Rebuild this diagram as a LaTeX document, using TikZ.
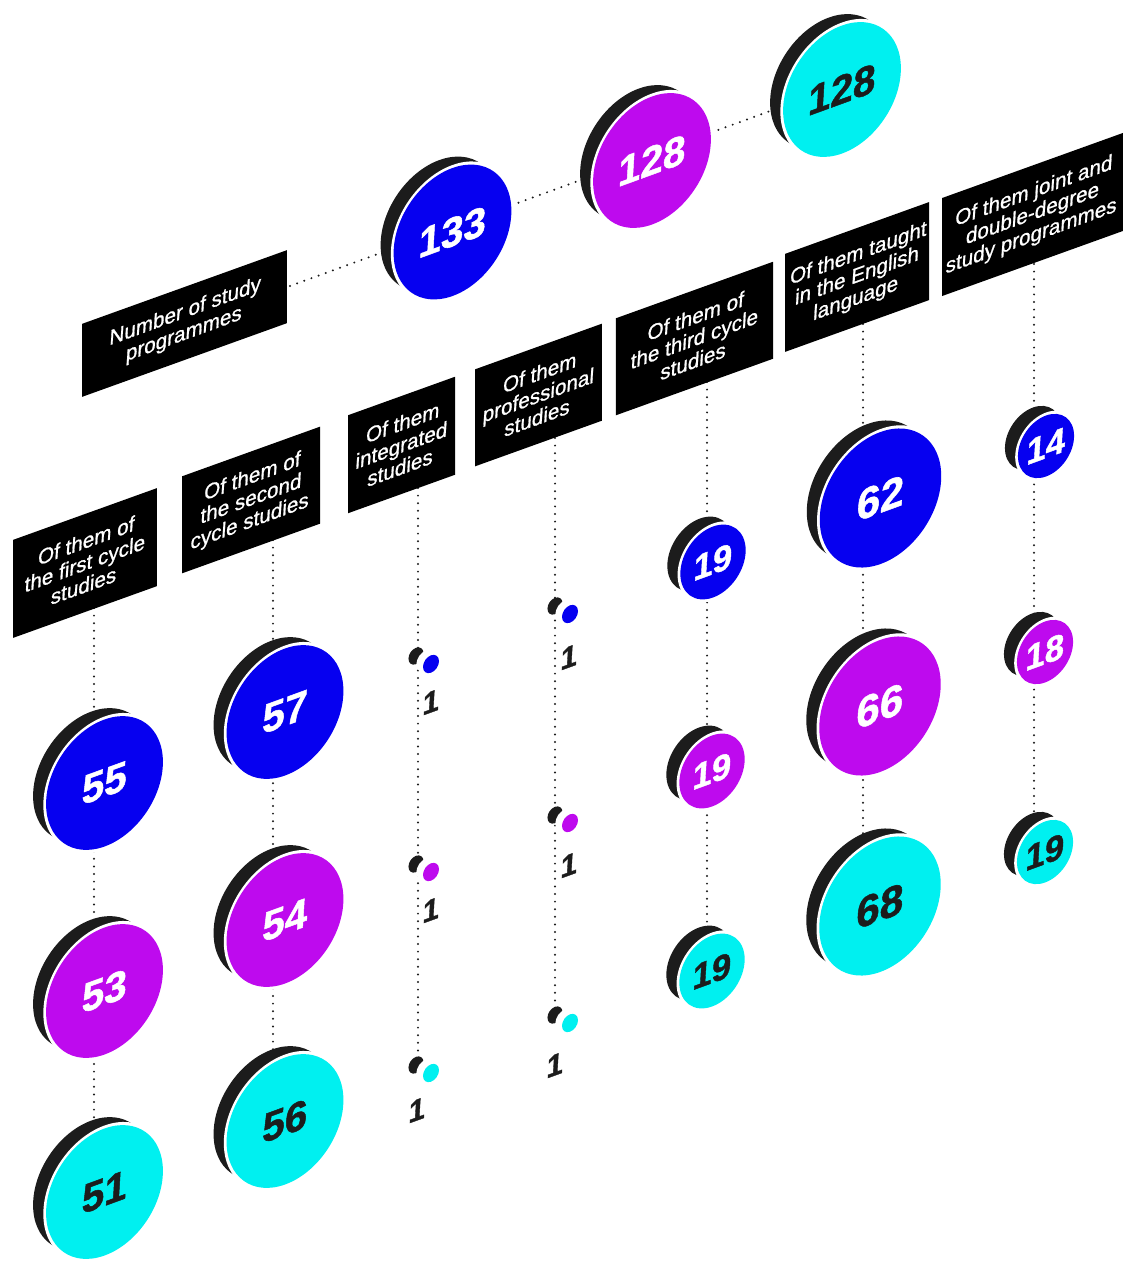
\documentclass[tikz,border=0pt]{standalone}
\usepackage{fontspec}
\newfontfamily\lblfont{Liberation Sans}[FakeBold=0.9]
\newfontfamily\numfont{Liberation Sans}[BoldFeatures={FakeBold=1.2}]
\definecolor{cblue}{RGB}{6,0,240}
\definecolor{cpurple}{RGB}{190,10,238}
\definecolor{ccyan}{RGB}{0,240,240}
\definecolor{cdark}{RGB}{28,28,28}
\tikzset{
  plane/.style={cm={0.92,0.331,0,1,(0,0)}},
  txtslant/.style={cm={0.96,0.35,0.06,1,(0,0)}},
  dotline/.style={draw=cdark, line width=2.2pt, line cap=round, dash pattern=on 0pt off 7.6pt},
  lbl/.style={text=white, align=center, inner sep=0pt, font=\lblfont\fontsize{21.5}{22.5}\selectfont},
  numtxt/.style={txtslant, transform shape, inner sep=0pt},
  labbox/.style={plane, transform shape, fill=black, inner sep=0pt, draw=none}
}
\newcommand\coin[8]{%
  \begin{scope}[shift={(#2,#3)}]
    \fill[cdark, shift={(-13,-8)}, plane] (0,0) circle[radius=#4pt];
    \fill[white, plane] (0,0) circle[radius=#4pt+3pt];
    \fill[#5, plane] (0,0) circle[radius=#4pt];
    \node[numtxt, text=#6, font=\numfont\bfseries\fontsize{#7}{#7}\selectfont] (#1) at (0,0) {#8};
  \end{scope}}
\newcommand\smalldot[4]{%
  \begin{scope}[shift={(#2,#3)}]
    \fill[cdark, shift={(-15,-8)}, plane] (0,0) circle[radius=8.2pt];
    \fill[white, shift={(-5,-3)}, plane] (0,0) circle[radius=10.5pt];
    \fill[#4, plane] (0,0) circle[radius=8.7pt];
    \coordinate (#1) at (0,0);
  \end{scope}}
\newcommand\labelbox[6]{%
  \begin{scope}[shift={(#2,#3)}]
    \node[labbox, minimum width=#4pt, minimum height=#5pt] (#1) at (0,0) {};
    \node[txtslant, transform shape, lbl] (#1t) at (0,0) {#6};
  \end{scope}}
\newcommand\one[3]{%
  \begin{scope}[shift={(#2,#3)}]
    \node[numtxt, text=cdark, font=\numfont\bfseries\fontsize{31}{31}\selectfont] (#1) at (0,0) {1};
  \end{scope}}
\begin{document}
\begin{tikzpicture}[x=1pt,y=-1pt]
\useasboundingbox (0,0) rectangle (1128,1266);
% connector end points
\coordinate (t0) at (290,286);
\coordinate (t1) at (836,87);
\coordinate (a1) at (94,608);   \coordinate (b1) at (94,1190);
\coordinate (a2) at (273,540);  \coordinate (b2) at (273,1120);
\coordinate (a3) at (418,488);  \coordinate (b3) at (418,1066);
\coordinate (a4) at (555,438);  \coordinate (b4) at (555,1016);
\coordinate (a5) at (707,382);  \coordinate (b5) at (707,968);
\coordinate (a6) at (863,324);  \coordinate (b6) at (863,904);
\coordinate (a7) at (1034,264); \coordinate (b7) at (1034,850);
\draw[dotline] (t0) -- (t1);
\foreach \i in {1,...,7} {\draw[dotline] (a\i) -- (b\i);}
% top row
\coin{n133}{452.5}{232}{64}{cblue}{white}{42}{133}
\coin{n128p}{652}{160.5}{64}{cpurple}{white}{42}{128}
\coin{n128c}{842}{89.5}{64}{ccyan}{cdark}{42}{128}
% column 1
\coin{c1a}{104.5}{783}{63.5}{cblue}{white}{42}{55}
\coin{c1b}{104.5}{991}{63.5}{cpurple}{white}{42}{53}
\coin{c1c}{104.5}{1192}{63.5}{ccyan}{cdark}{42}{51}
% column 2
\coin{c2a}{285}{712}{63.5}{cblue}{white}{42}{57}
\coin{c2b}{285}{920}{63.5}{cpurple}{white}{42}{54}
\coin{c2c}{285}{1121}{63.5}{ccyan}{cdark}{42}{56}
% column 3 (tiny)
\smalldot{c3a}{431}{664}{cblue}
\smalldot{c3b}{431}{872}{cpurple}
\smalldot{c3c}{431}{1073}{ccyan}
\one{o3a}{431}{702}
\one{o3b}{431}{910}
\one{o3c}{417}{1110}
% column 4 (tiny)
\smalldot{c4a}{570}{614}{cblue}
\smalldot{c4b}{570}{823}{cpurple}
\smalldot{c4c}{570}{1023}{ccyan}
\one{o4a}{569}{657}
\one{o4b}{569}{865}
\one{o4c}{555}{1065}
% column 5
\coin{c5a}{713}{562}{35.5}{cblue}{white}{36}{19}
\coin{c5b}{712}{771}{35.5}{cpurple}{white}{36}{19}
\coin{c5c}{712}{971}{35.5}{ccyan}{cdark}{36}{19}
% column 6
\coin{c6a}{880.5}{498}{66}{cblue}{white}{44}{62}
\coin{c6b}{880}{706}{66}{cpurple}{white}{44}{66}
\coin{c6c}{880}{906}{66}{ccyan}{cdark}{44}{68}
% column 7
\coin{c7a}{1046}{446}{30.5}{cblue}{white}{36}{14}
\coin{c7b}{1045}{652}{30.5}{cpurple}{white}{36}{18}
\coin{c7c}{1045}{852}{30.5}{ccyan}{cdark}{36}{19}
% labels
\labelbox{L0}{184.5}{323.5}{222.8}{73}{Number of study\\programmes}
\labelbox{L1}{85}{563}{156.5}{98}{Of them of\\the first cycle\\studies}
\labelbox{L2}{251}{500}{150}{97}{Of them of\\the second\\cycle studies}
\labelbox{L3}{401.5}{445}{116.3}{98}{Of them\\integrated\\studies}
\labelbox{L4}{538.5}{395}{138}{97}{Of them\\professional\\studies}
\labelbox{L5}{694.5}{338.5}{170.7}{97}{Of them of\\the third cycle\\studies}
\labelbox{L6}{857}{277}{156.5}{98}{Of them taught\\in the English\\language}
\labelbox{L7}{1032.5}{214.5}{196.7}{98}{Of them joint and\\double-degree\\study programmes}
\end{tikzpicture}
\end{document}
